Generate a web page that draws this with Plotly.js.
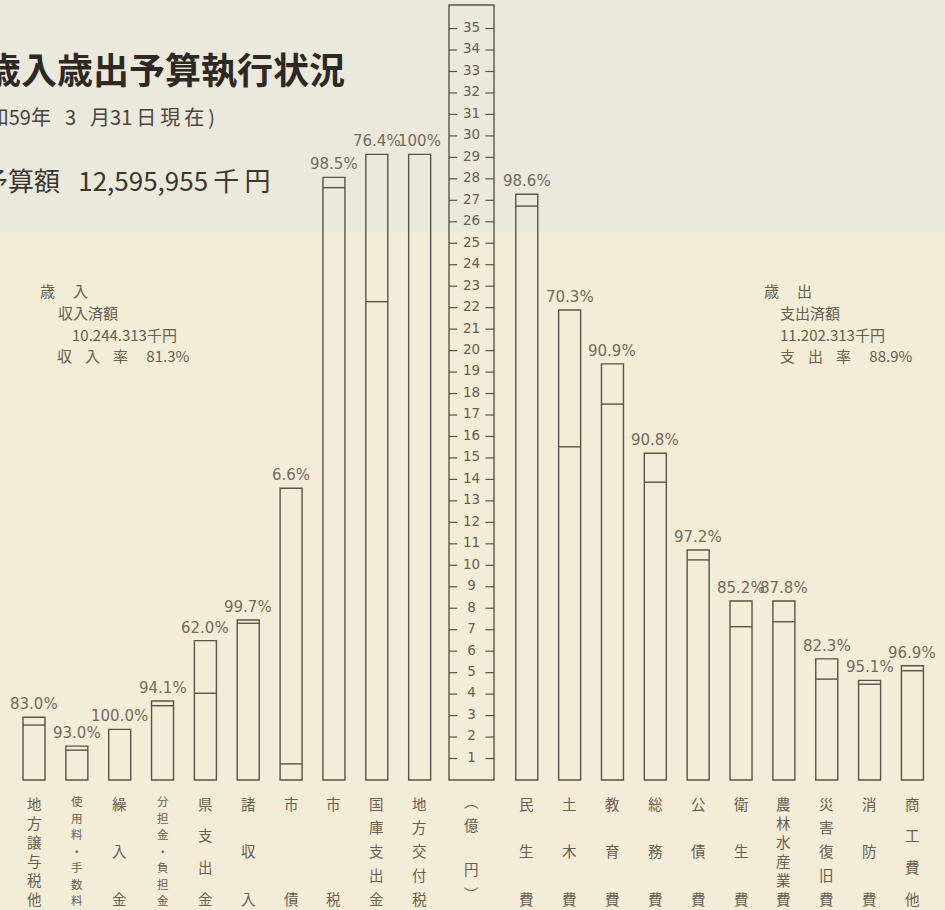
<!DOCTYPE html>
<html>
<head>
<meta charset="utf-8">
<script src="https://cdn.plot.ly/plotly-3.0.1.min.js"></script>
<style>html,body{margin:0;padding:0;background:#f2ebd5;}#chart{width:945px;height:910px;}</style>
</head>
<body>
<div id="chart"></div>
<script>
// ---- data (億円) ----
const revCategories = ['地方譲与税他','使用料・手数料','繰入金','分担金・負担金','県支出金','諸収入','市債','市税','国庫支出金','地方交付税'];
const revBudget   = [2.92, 1.58, 2.36, 3.68, 6.49, 7.45, 13.59, 28.07, 29.14, 29.14];
const revExecuted = [2.56, 1.39, 2.36, 3.46, 4.04, 7.30, 0.75, 27.59, 22.28, 29.14];
const revRate     = ['83.0%','93.0%','100.0%','94.1%','62.0%','99.7%','6.6%','98.5%','76.4%','100%'];

const expCategories = ['民生費','土木費','教育費','総務費','公債費','衛生費','農林水産業費','災害復旧費','消防費','商工費他'];
const expBudget   = [27.28, 21.89, 19.38, 15.22, 10.71, 8.34, 8.34, 5.64, 4.64, 5.32];
const expExecuted = [26.73, 15.52, 17.51, 13.87, 10.25, 7.14, 7.37, 4.70, 4.46, 5.09];
const expRate     = ['98.6%','70.3%','90.9%','90.8%','97.2%','85.2%','87.8%','82.3%','95.1%','96.9%'];

const axisTicks = [1,2,3,4,5,6,7,8,9,10,11,12,13,14,15,16,17,18,19,20,21,22,23,24,25,26,27,28,29,30,31,32,33,34,35];
const axisUnit = ['︵','億','円','︶'];

const titleText = '歳入歳出予算執行状況';
const subtitleText = '(昭和59年\u2002\u20093\u2002\u2009月31\u2009日\u2009現\u2009在\u2009)';
const totalText = '予算額\u2002\u200912,595,955\u2009千\u2009円';
const gap = '\u2002\u2009\u2006';
const revNote = ['歳\u3000\u2009入','収入済額','10.244.313千円','収' + gap + '入' + gap + '率\u2002\u2002 81.3%'];
const expNote = ['歳\u3000\u2009出','支出済額','11.202.313千円','支' + gap + '出' + gap + '率\u2002\u2002 88.9%'];

// ---- layout helpers ----
const W = 945, H = 910;
const PX0 = 34, PXU = 42.85;          // x: pixel = PX0 + PXU * pos
const PY0 = 780, PYU = 21.47;         // y: pixel = PY0 - PYU * value
const xr = [(0 - PX0) / PXU, (W - PX0) / PXU];
const yr = [(PY0 - H) / PYU, PY0 / PYU];
const barW = 22 / PXU;
const ink = '#5b5347';
const txt = '#675f52';
const cjk = '"Noto Sans CJK JP", "Noto Sans", sans-serif';
const num = '"DejaVu Sans", sans-serif';

const revPos = revCategories.map((_, i) => i);
const expPos = expCategories.map((_, j) => 11.5 + j);
const allPos = revPos.concat(expPos);
const allBudget = revBudget.concat(expBudget);
const allExec = revExecuted.concat(expExecuted);
const allRate = revRate.concat(expRate);
const allCats = revCategories.concat(expCategories);

const boxL = (449 - PX0) / PXU, boxR = (494 - PX0) / PXU, boxC = (471.5 - PX0) / PXU;
const boxTop = (PY0 - 5) / PYU;

const traces = [];
traces.push({
  type: 'bar', x: allPos, y: allBudget, width: barW,
  marker: {color: 'rgba(0,0,0,0)', line: {color: ink, width: 1.4}},
  hoverinfo: 'skip', showlegend: false
});
// executed lines
const lx = [], ly = [];
allPos.forEach((p, i) => {
  if (allExec[i] < allBudget[i]) {
    lx.push(p - barW / 2, p + barW / 2, null);
    ly.push(allExec[i], allExec[i], null);
  }
});
traces.push({type: 'scatter', mode: 'lines', x: lx, y: ly, line: {color: ink, width: 1.4}, hoverinfo: 'skip', showlegend: false});
// axis column tick dashes
const tx = [], ty = [];
axisTicks.forEach(t => {
  tx.push(boxL, boxL + 0.19, null, boxR - 0.2, boxR, null);
  ty.push(t, t, null, t, t, null);
});
traces.push({type: 'scatter', mode: 'lines', x: tx, y: ty, line: {color: ink, width: 1.2}, hoverinfo: 'skip', showlegend: false});
traces.push({type: 'scatter', mode: 'text', x: axisTicks.map(() => boxC), y: axisTicks, text: axisTicks.map(String),
  textfont: {family: num, size: 13.5, color: txt}, hoverinfo: 'skip', showlegend: false});

const ann = [];
// rate labels
allPos.forEach((p, i) => {
  ann.push({x: p, y: allBudget[i], xref: 'x', yref: 'y', text: allRate[i], showarrow: false,
    xanchor: 'center', yanchor: 'bottom', yshift: 2,
    font: {family: num, size: 15, color: '#736b5d'}});
});
// vertical category labels
function pyToPaper(py) { return 1 - py / H; }
function vertical(chars, pos, ys, size) {
  chars.forEach((c, k) => {
    ann.push({x: pos, xref: 'x', y: pyToPaper(ys[k]), yref: 'paper', text: c, showarrow: false,
      xanchor: 'center', yanchor: 'middle', borderpad: 0, font: {family: cjk, size: size, color: txt}});
  });
}
allCats.forEach((c, i) => {
  const chars = Array.from(c);
  const n = chars.length;
  const top = n >= 7 ? 801 : 803, bot = n >= 7 ? 900 : 898;
  const ys = chars.map((_, k) => n === 1 ? top : top + (bot - top) * k / (n - 1));
  vertical(chars, allPos[i], ys, n >= 7 ? 11.5 : 14.5);
});
vertical(axisUnit, boxC, [800, 824, 868, 893], 14.5);

// titles and notes
function textAt(t, px, py, anchor, size, color, bold) {
  ann.push({x: px / W, y: pyToPaper(py), xref: 'paper', yref: 'paper', text: bold ? '<b>' + t + '</b>' : t,
    showarrow: false, xanchor: anchor, yanchor: 'middle', font: {family: cjk, size: size, color: color}});
}
textAt(titleText, 347, 68, 'right', 36, '#2e2924', true);
textAt(subtitleText, -40, 117, 'left', 20, '#4a443b', false);
textAt(totalText, -20, 180, 'left', 26, '#3c362f', false);
const noteY = [290, 312, 334, 356];
const revX = [38, 56, 70, 55];
const expX = [762, 778, 778, 778];
revNote.forEach((t, k) => textAt(t, revX[k], noteY[k], 'left', 15, txt, false));
expNote.forEach((t, k) => textAt(t, expX[k], noteY[k], 'left', 15, txt, false));

const layout = {
  width: W, height: H,
  margin: {l: 0, r: 0, t: 0, b: 0, pad: 0},
  paper_bgcolor: '#f3ecd6', plot_bgcolor: 'rgba(0,0,0,0)',
  showlegend: false,
  xaxis: {range: xr, visible: false, fixedrange: true},
  yaxis: {range: yr, visible: false, fixedrange: true},
  shapes: [
    {type: 'rect', xref: 'paper', yref: 'paper', x0: 0, x1: 1, y0: pyToPaper(232), y1: 1,
      fillcolor: '#ebe8dc', line: {width: 0}, layer: 'below'},
    {type: 'rect', xref: 'x', yref: 'y', x0: boxL, x1: boxR, y0: 0, y1: boxTop,
      fillcolor: 'rgba(0,0,0,0)', line: {color: ink, width: 1.4}}
  ],
  annotations: ann
};
Plotly.newPlot('chart', traces, layout, {staticPlot: true, displayModeBar: false});
</script>
</body>
</html>
